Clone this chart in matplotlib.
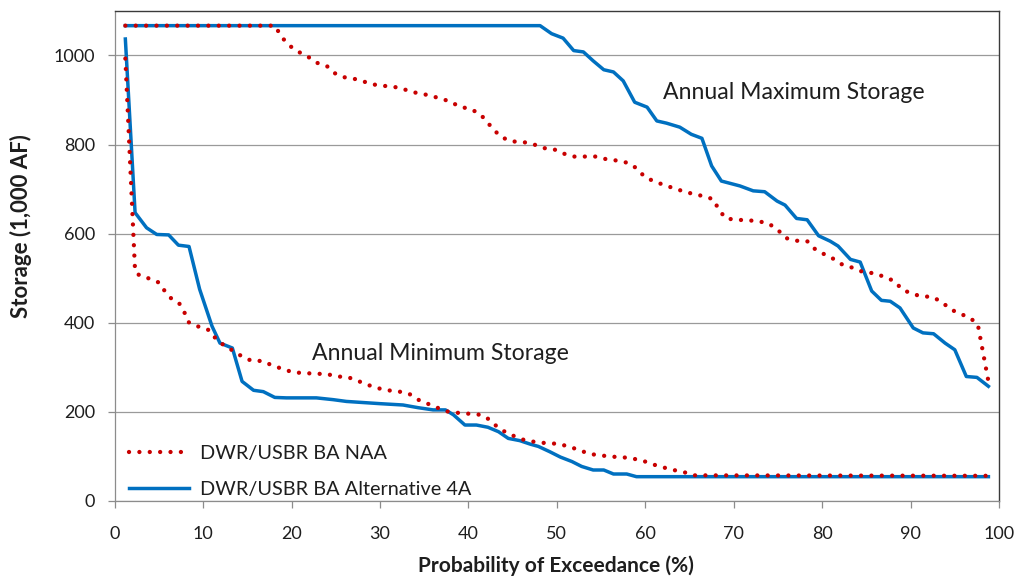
import matplotlib
matplotlib.use("Agg")
import matplotlib.pyplot as plt

plt.rcParams['font.family'] = ['Lato', 'DejaVu Sans']

# ---- data ----
max_alt_x = [1.2, 47.0, 48.1, 49.4, 50.7, 51.9, 53.0, 54.1, 55.3, 56.4,
             57.5, 58.8, 60.2, 61.3, 62.4, 63.9, 65.2, 66.4, 67.5, 68.6,
             70.7, 72.2, 73.5, 74.9, 75.8, 77.1, 78.3, 79.6, 80.9, 81.8,
             83.2, 84.3, 85.6, 86.7, 87.7, 88.8, 90.3, 91.4, 92.6, 93.9,
             95.0, 96.3, 97.5, 98.8]
max_alt_y = [1067, 1067, 1067, 1049, 1039, 1011, 1008, 988, 968, 963,
             943, 895, 884, 853, 848, 839, 823, 814, 752, 718,
             707, 696, 694, 673, 664, 634, 631, 595, 583, 572,
             542, 536, 471, 450, 448, 433, 388, 377, 375, 354,
             339, 279, 277, 257]

max_naa_x = [1.2, 18.1, 18.9, 19.7, 20.7, 21.8, 22.8, 24.0, 24.9, 26.0,
             27.2, 28.4, 29.5, 30.8, 32.1, 33.2, 34.3, 35.5, 36.7, 37.9,
             39.0, 40.2, 41.3, 42.1, 42.9, 43.8, 44.9, 46.1, 47.3, 48.5,
             49.6, 50.7, 51.9, 53.2, 54.4, 55.6, 56.8, 58.0, 59.0, 59.9,
             60.9, 62.0, 63.2, 64.3, 65.4, 66.6, 67.7, 68.3, 69.1, 70.3,
             71.5, 72.7, 73.9, 74.9, 75.9, 77.0, 78.3, 79.2, 80.2, 81.3,
             82.3, 83.5, 84.7, 85.9, 87.0, 88.2, 89.0, 90.0, 91.2, 92.4,
             93.5, 94.5, 95.6, 96.7, 97.6, 98.8]
max_naa_y = [1067, 1067, 1041, 1023, 1009, 998, 984, 976, 960, 951,
             947, 940, 934, 931, 928, 921, 915, 911, 904, 897,
             885, 880, 869, 851, 832, 816, 807, 806, 801, 792,
             790, 780, 773, 773, 773, 767, 764, 759, 747, 728,
             718, 710, 702, 695, 689, 684, 677, 654, 634, 631,
             630, 628, 623, 610, 590, 584, 583, 565, 554, 543,
             530, 523, 513, 511, 503, 493, 475, 466, 459, 458,
             447, 430, 420, 411, 396, 268]

min_alt_x = [1.2, 2.3, 3.6, 4.75, 6.1, 7.2, 8.4, 9.6, 11.0, 11.9,
             13.3, 14.4, 15.7, 16.8, 18.1, 19.4, 22.8, 24.7, 26.2, 30.0,
             32.6, 34.3, 36.0, 37.4, 38.3, 39.6, 40.9, 42.2, 43.4, 44.5,
             45.8, 47.0, 47.9, 49.2, 50.4, 51.7, 52.8, 54.1, 55.3, 56.4,
             57.9, 59.0, 98.8]
min_alt_y = [1037, 647, 613, 598, 597, 574, 571, 475, 392, 354,
             343, 268, 248, 245, 232, 231, 231, 227, 223, 218,
             215, 209, 204, 204, 193, 170, 170, 165, 155, 140,
             135, 127, 122, 110, 98, 88, 77, 69, 69, 60,
             60, 54, 54]

min_naa_x = [1.2, 2.3, 2.8, 3.9, 5.0, 5.5, 6.4, 7.3, 7.9, 8.4,
             9.6, 10.7, 11.5, 12.5, 13.2, 14.4, 15.5, 16.7, 17.9, 19.0,
             20.2, 21.4, 22.7, 23.9, 25.1, 26.3, 27.4, 28.5, 29.7, 30.9,
             32.2, 33.3, 34.3, 35.5, 36.6, 37.7, 39.0, 40.3, 41.4, 42.4,
             43.3, 44.2, 45.4, 46.5, 47.6, 48.9, 50.1, 51.3, 52.5, 53.7,
             54.9, 56.1, 57.3, 58.5, 59.7, 60.8, 62.0, 63.2, 64.4, 65.5,
             98.8]
min_naa_y = [993, 515, 506, 499, 490, 475, 454, 443, 422, 400,
             390, 383, 362, 347, 339, 324, 314, 314, 303, 296,
             288, 287, 285, 285, 279, 278, 270, 261, 253, 248,
             245, 240, 227, 217, 208, 200, 197, 195, 193, 182,
             165, 154, 143, 135, 132, 129, 128, 122, 114, 105,
             102, 99, 98, 95, 90, 82, 75, 69, 64, 57,
             56]

series_labels = ["DWR/USBR BA NAA", "DWR/USBR BA Alternative 4A"]
x_ticks = [0, 10, 20, 30, 40, 50, 60, 70, 80, 90, 100]
y_ticks = [0, 200, 400, 600, 800, 1000]
annotations = [("Annual Maximum Storage", 62.0, 902), ("Annual Minimum Storage", 22.3, 317)]

RED = "#C80000"
BLUE = "#0070C0"
TXT = "#1E1E1E"

fig = plt.figure(figsize=(10.19, 5.77), dpi=100)
ax = fig.add_axes([0.1126, 0.1322, 0.8678, 0.8488])

dot_style = dict(color=RED, lw=3.1, linestyle=(0, (0.01, 2.4)),
                 dash_capstyle='round', solid_capstyle='round')
blue_style = dict(color=BLUE, lw=2.5, solid_joinstyle='round')

l_alt, = ax.plot(max_alt_x, max_alt_y, zorder=3, **blue_style)
ax.plot(min_alt_x, min_alt_y, zorder=3, **blue_style)
l_naa, = ax.plot(max_naa_x, max_naa_y, zorder=4, **dot_style)
ax.plot(min_naa_x, min_naa_y, zorder=4, **dot_style)

ax.set_xlim(0, 100)
ax.set_ylim(0, 1100)
ax.set_xticks(x_ticks)
ax.set_yticks(y_ticks)
ax.yaxis.grid(True, color="#9A9A9A", lw=0.9)
ax.set_axisbelow(True)

for s in ['left', 'bottom']:
    ax.spines[s].set_color("#8C8C8C")
    ax.spines[s].set_linewidth(0.9)
for s in ['top', 'right']:
    ax.spines[s].set_color("#3A3A3A")
    ax.spines[s].set_linewidth(1.0)

ax.tick_params(axis='both', direction='out', length=5, width=0.9,
               color="#8C8C8C", labelsize=13, labelcolor=TXT)
ax.tick_params(axis='x', pad=13)
ax.tick_params(axis='y', pad=9)

ax.set_xlabel("Probability of Exceedance (%)", fontsize=15, fontweight='bold', color=TXT)
ax.set_ylabel("Storage (1,000 AF)", fontsize=16, fontweight='bold', color=TXT)
ax.xaxis.set_label_coords(0.499, -0.112)
ax.yaxis.set_label_coords(-0.094, 0.56)

for txt, tx, ty in annotations:
    ax.text(tx, ty, txt, fontsize=16.6, color=TXT, ha='left', va='baseline')

leg = ax.legend([l_naa, l_alt], series_labels, loc='lower left',
                bbox_to_anchor=(0.012, -0.002), frameon=False, fontsize=14.3,
                handlelength=3.0, handletextpad=0.55, labelspacing=0.95,
                borderpad=0.2, borderaxespad=0.0)
for t in leg.get_texts():
    t.set_color(TXT)

fig.savefig("out.png", dpi=100)
